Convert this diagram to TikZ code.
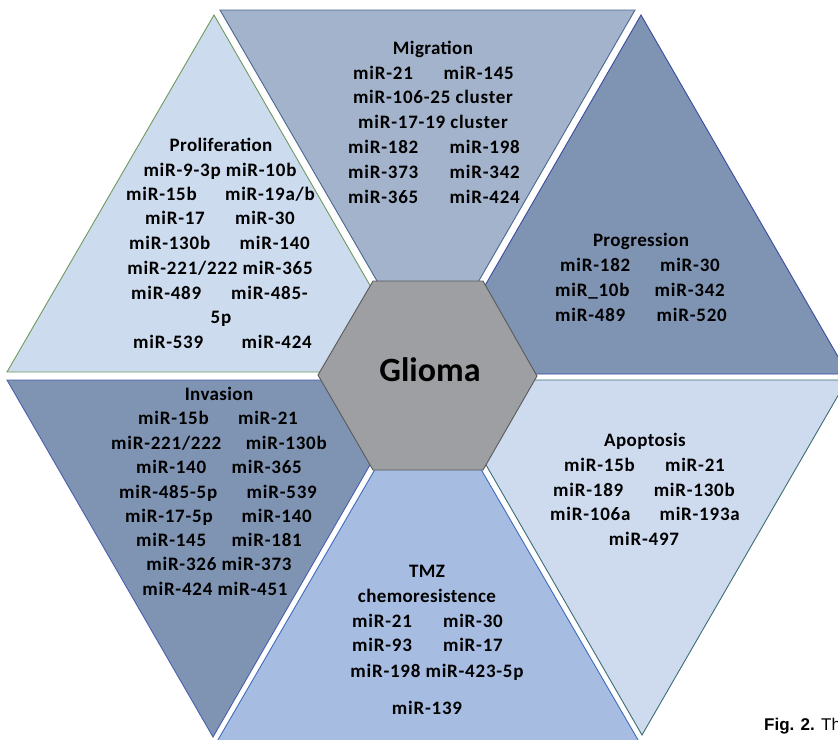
\documentclass[tikz,border=0pt]{standalone}
\usepackage{fontspec}
\setmainfont{Carlito}
\newfontfamily\mirfont[LetterSpace=4]{Carlito}
\newfontfamily\hdrfont[LetterSpace=2]{Carlito}
\newfontfamily\figfont{Liberation Sans}
\definecolor{cProl}{HTML}{CDDBEE}
\definecolor{cMig}{HTML}{A3B3CB}
\definecolor{cProg}{HTML}{7F93B3}
\definecolor{cInv}{HTML}{7F93B3}
\definecolor{cTMZ}{HTML}{A7BCE1}
\definecolor{cApo}{HTML}{CEDBEE}
\definecolor{cHex}{HTML}{9D9FA3}
\definecolor{gProl}{HTML}{6F9A5F}
\definecolor{gMig}{HTML}{4A6890}
\definecolor{gProg}{HTML}{3B4BA0}
\definecolor{gInv}{HTML}{4B5FAF}
\definecolor{gTMZ}{HTML}{3E6CC0}
\definecolor{gApo}{HTML}{3D6E75}
\definecolor{gHex}{HTML}{5A5A5A}
\newcommand\mpair[6]{\node[lbl,anchor=base west] (#1l) at (#3,#2) {#4};\node[lbl,anchor=base east] (#1r) at (#5,#2) {#6};}
\newcommand\mone[4]{\node[lbl,anchor=base] (#1) at (#2,#3) {#4};}
\newcommand\mhead[4]{\node[hdr,anchor=base] (#1) at (#2,#3) {#4};}
\begin{document}
\begin{tikzpicture}[x=1pt,y=-1pt,
  tri/.style={line width=0.9pt, line join=miter},
  lbl/.style={font=\mirfont\bfseries\fontsize{19}{19}\selectfont, inner sep=0pt, text=black},
  hdr/.style={font=\hdrfont\bfseries\fontsize{19}{19}\selectfont, inner sep=0pt, text=black},
]
\useasboundingbox (0,0) rectangle (838,739);
\fill[white] (0,0) rectangle (838,739);
\begin{scope}
\clip (0,0) rectangle (838,739);
% triangles
\filldraw[tri, fill=cProl, draw=gProl] (214,15) -- (7,372) -- (420,372) -- cycle;
\filldraw[tri, fill=cMig, draw=gMig] (220,10) -- (635,10) -- (428,369) -- cycle;
\filldraw[tri, fill=cProg, draw=gProg] (641,15) -- (434,374) -- (848,374) -- cycle;
\filldraw[tri, fill=cInv, draw=gInv] (7,380) -- (419,380) -- (213,737) -- cycle;
\filldraw[tri, fill=cApo, draw=gApo] (437,380) -- (847,380) -- (642,735) -- cycle;
\filldraw[tri, fill=cTMZ, draw=gTMZ] (428,378) -- (215,745) -- (641,745) -- cycle;
% centre hexagon
\filldraw[line width=0.9pt, fill=cHex, draw=gHex] (318,375) -- (373,281) -- (483,281) -- (537,376) -- (483,470) -- (373,470) -- cycle;
\node[anchor=base, inner sep=0pt, font=\bfseries\fontsize{34}{34}\selectfont] (glioma) at (430,381) {Glioma};
% Proliferation
\mhead{prolh}{221}{151}{Proliferation}
\mone{p1}{220}{176}{miR-9-3p miR-10b}
\mpair{p2}{200}{126}{miR-15b}{315}{miR-19a/b}
\mpair{p3}{224}{145}{miR-17}{295}{miR-30}
\mpair{p4}{249}{129}{miR-130b}{310}{miR-140}
\mone{p5}{220}{274}{miR-221/222 miR-365}
\mpair{p6}{299}{131}{miR-489}{308}{miR-485-}
\mone{p7}{221}{323}{5p}
\mpair{p8}{348}{133}{miR-539}{312}{miR-424}
% Migration
\mhead{migh}{433}{54}{Migration}
\mpair{m1}{79}{353}{miR-21}{514}{miR-145}
\mone{m2}{433}{103}{miR-106-25 cluster}
\mone{m3}{433}{128}{miR-17-19 cluster}
\mpair{m4}{153}{348}{miR-182}{520}{miR-198}
\mpair{m5}{178}{348}{miR-373}{520}{miR-342}
\mpair{m6}{203}{348}{miR-365}{520}{miR-424}
% Progression
\mhead{progh}{641}{246}{Progression}
\mpair{g1}{271}{560}{miR-182}{720}{miR-30}
\mpair{g2}{296}{555}{miR\_10b}{725}{miR-342}
\mpair{g3}{321}{555}{miR-489}{727}{miR-520}
% Invasion
\mhead{invh}{219}{400}{Invasion}
\mpair{i1}{424}{138}{miR-15b}{298}{miR-21}
\mpair{i2}{449}{111}{miR-221/222}{327}{miR-130b}
\mpair{i3}{473}{136}{miR-140}{302}{miR-365}
\mpair{i4}{498}{119}{miR-485-5p}{317}{miR-539}
\mpair{i5}{522}{125}{miR-17-5p}{312}{miR-140}
\mpair{i6}{546}{136}{miR-145}{302}{miR-181}
\mone{i7}{219}{570}{miR-326 miR-373}
\mone{i8}{215}{595}{miR-424 miR-451}
% Apoptosis
\mhead{apoh}{645}{446}{Apoptosis}
\mpair{a1}{471}{564}{miR-15b}{725}{miR-21}
\mpair{a2}{496}{553}{miR-189}{735}{miR-130b}
\mpair{a3}{520}{550}{miR-106a}{740}{miR-193a}
\mone{a4}{644}{545}{miR-497}
% TMZ
\mhead{tmzh}{427}{577}{TMZ}
\mhead{tmzh2}{427}{602}{chemoresistence}
\mpair{t1}{627}{352}{miR-21}{503}{miR-30}
\mpair{t2}{651}{352}{miR-93}{503}{miR-17}
\mone{t3}{437}{677}{miR-198 miR-423-5p}
\mone{t4}{427}{714}{miR-139}
% caption fragment (cut off at the right edge, as in the reference)
\node[anchor=base west, inner sep=0pt, font=\figfont\fontsize{17}{17}\selectfont] (fig) at (764,730) {\textbf{Fig. 2.} Th};
\end{scope}
\end{tikzpicture}
\end{document}
